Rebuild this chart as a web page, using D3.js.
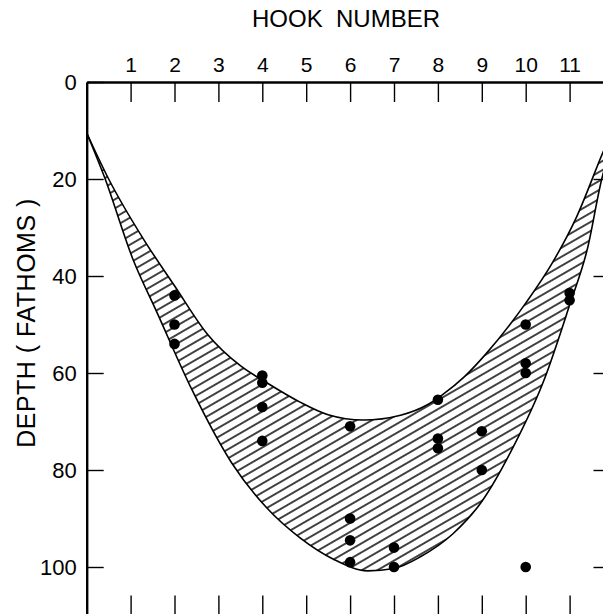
<!DOCTYPE html>
<html>
<head>
<meta charset="utf-8">
<script src="https://cdn.jsdelivr.net/npm/d3@7"></script>
<style>
  body { margin: 0; background: #fff; }
  text { font-family: "Liberation Sans", Arial, sans-serif; fill: #000; }
</style>
</head>
<body>
<div id="chart"></div>
<script>
// tick labels
const hookTicks = [1, 2, 3, 4, 5, 6, 7, 8, 9, 10, 11];
const depthTicks = [0, 20, 40, 60, 80, 100];

// catches: hook number and depth (fathoms)
const catchHook  = [2, 2, 2, 4, 4, 4, 4, 6, 6, 6, 6, 7, 7, 8, 8, 8, 9, 9, 10, 10, 10, 10, 11, 11];
const catchDepth = [44, 50, 54, 60.5, 62, 67, 74, 71, 90, 94.5, 99, 96, 100, 65.5, 73.5, 75.5, 72, 80, 50, 58, 60, 100, 43.5, 45];

// shallow edge of the hatched band
const shallowHook  = [0, 0.5, 1.3, 2, 2.75, 3.5, 4.1, 4.86, 5.5, 6.3, 7.15, 7.75, 8.1, 8.6, 9.1, 10, 10.6, 11.16, 11.75, 11.9];
const shallowDepth = [10.5, 20, 32.5, 42, 52, 58.5, 62, 66, 68.6, 69.7, 68.7, 66.6, 64.5, 60.8, 56, 45.6, 37.4, 27.8, 14.7, 11.5];

// deep edge of the hatched band
const deepHook  = [0, 0.4, 1.06, 1.6, 2.4, 3.3, 4.1, 4.86, 5.62, 6.4, 7, 7.6, 8.35, 9, 9.72, 10.42, 11, 11.4, 11.76, 11.9];
const deepDepth = [10.5, 19.5, 36.7, 47.5, 63.5, 78.5, 87.8, 94, 98.4, 100.8, 100.3, 97.9, 93.1, 86.5, 75.2, 61.4, 46, 34.6, 19, 15];

const width = 603, height = 614;

const svg = d3.select('#chart').append('svg')
  .attr('width', width)
  .attr('height', height);

const x = d3.scaleLinear().domain([0, 12]).range([86.7, 613.5]);
const y = d3.scaleLinear().domain([0, 110]).range([82, 615.5]);

// hatch pattern
const defs = svg.append('defs');
const pat = defs.append('pattern')
  .attr('id', 'hatch')
  .attr('patternUnits', 'userSpaceOnUse')
  .attr('width', 40)
  .attr('height', 7.8)
  .attr('patternTransform', 'rotate(-30)');
pat.append('line')
  .attr('x1', -2).attr('y1', 3.9)
  .attr('x2', 42).attr('y2', 3.9)
  .attr('stroke', '#000')
  .attr('stroke-width', 1.35);

const line = d3.line()
  .x(d => x(d[0]))
  .y(d => y(d[1]))
  .curve(d3.curveMonotoneX);

const shallow = shallowHook.map((h, i) => [h, shallowDepth[i]]);
const deep = deepHook.map((h, i) => [h, deepDepth[i]]);

// band: shallow edge forward, then close off-canvas, deep edge back
const bandPath = line(shallow) + 'L' + x(12.5) + ',' + y(10) + 'L' + x(12.5) + ',' + y(15) + line(deep.slice().reverse()).replace(/^M/, 'L') + 'Z';
svg.append('path')
  .attr('d', bandPath)
  .attr('fill', 'url(#hatch)')
  .attr('stroke', 'none');

svg.append('path')
  .attr('d', line(shallow))
  .attr('fill', 'none')
  .attr('stroke', '#000')
  .attr('stroke-width', 1.6);
svg.append('path')
  .attr('d', line(deep))
  .attr('fill', 'none')
  .attr('stroke', '#000')
  .attr('stroke-width', 1.6);

// catch points
svg.append('g')
  .selectAll('circle')
  .data(catchHook.map((h, i) => [h, catchDepth[i]]))
  .join('circle')
  .attr('cx', d => x(d[0]))
  .attr('cy', d => y(d[1]))
  .attr('r', 5.3)
  .attr('fill', '#000');

// axes, ticks pointing inward
function styleAxis(g, w) {
  g.select('.domain').attr('stroke', '#000').attr('stroke-width', w);
  g.selectAll('.tick line').attr('stroke', '#000').attr('stroke-width', 1.4);
  g.selectAll('text').style('font-family', '"Liberation Sans", Arial, sans-serif').attr('fill', '#000');
}

const topAxis = svg.append('g')
  .attr('transform', `translate(0,${y(0)})`)
  .call(d3.axisTop(x).tickValues(hookTicks).tickSizeInner(-20).tickSizeOuter(0).tickPadding(10))
  .call(g => styleAxis(g, 2.4));
topAxis.selectAll('text').style('font-size', '21px');

svg.append('g')
  .attr('transform', `translate(0,${y(110)})`)
  .call(d3.axisBottom(x).tickValues(hookTicks).tickSizeInner(-20).tickSizeOuter(0).tickFormat(''))
  .call(g => styleAxis(g, 2.4));

const leftAxis = svg.append('g')
  .attr('transform', `translate(${x(0)},0)`)
  .call(d3.axisLeft(y).tickValues(depthTicks).tickSizeInner(-17).tickSizeOuter(0).tickPadding(10))
  .call(g => styleAxis(g, 2.4));
leftAxis.selectAll('text').style('font-size', '22px');

svg.append('g')
  .attr('transform', `translate(${x(12)},0)`)
  .call(d3.axisRight(y).tickValues(depthTicks.slice(1)).tickSizeInner(-20).tickSizeOuter(0).tickFormat(''))
  .call(g => styleAxis(g, 2.4));

// titles
svg.append('text')
  .attr('x', 346)
  .attr('y', 27)
  .attr('text-anchor', 'middle')
  .style('font-size', '24px')
  .style('white-space', 'pre')
  .text('HOOK  NUMBER');

svg.append('text')
  .attr('transform', 'translate(35,323) rotate(-90)')
  .attr('text-anchor', 'middle')
  .style('font-size', '25px')
  .style('letter-spacing', '0.5px')
  .style('white-space', 'pre')
  .text('DEPTH ( FATHOMS )');
</script>
</body>
</html>
